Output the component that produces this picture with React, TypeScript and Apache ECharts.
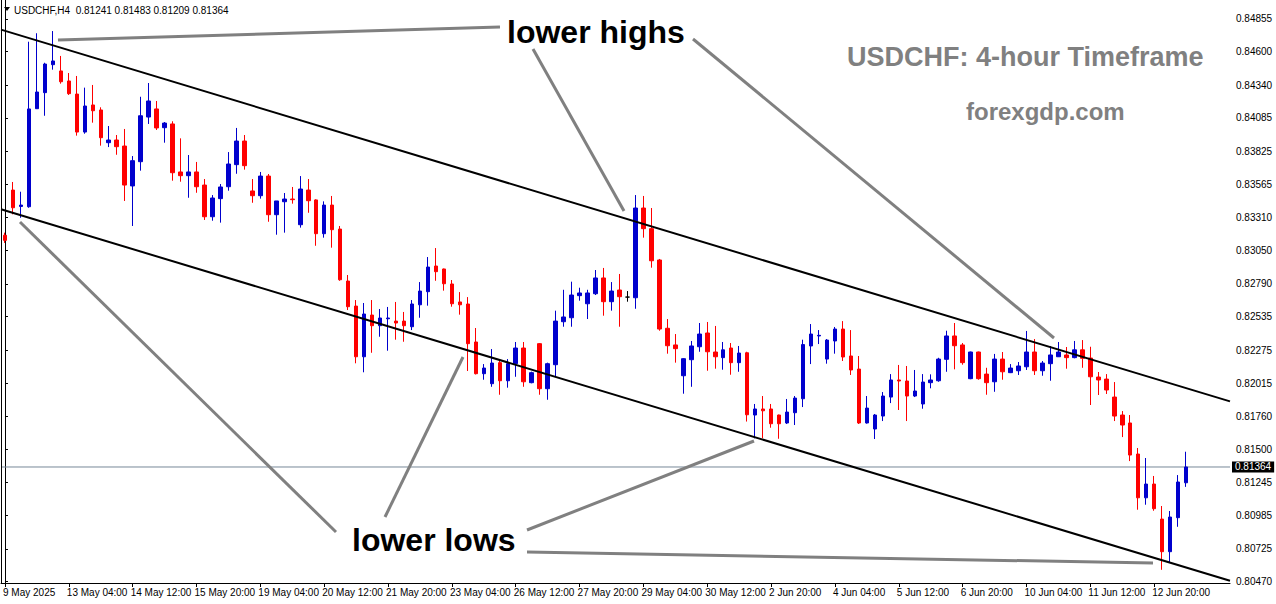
import React, { useEffect, useRef } from "react";
import * as echarts from "echarts";

// OHLC of USDCHF H4 bars, from 9 May 2025 20:00 to 13 Jun 12:00
const opens = [
  0.8317, 0.83522, 0.83394, 0.83392, 0.84156, 0.84281, 0.84499, 0.8445, 0.84372, 0.8427,
  0.83974, 0.84185, 0.84146, 0.83891, 0.83912, 0.83865, 0.83554, 0.83743, 0.84091, 0.84154,
  0.84008, 0.84037, 0.83663, 0.83634, 0.83663, 0.83561, 0.83314, 0.83455, 0.83548, 0.8372,
  0.83904, 0.83515, 0.83478, 0.83631, 0.8333, 0.83431, 0.83452, 0.83252, 0.83522, 0.83445,
  0.83182, 0.83405, 0.83218, 0.82813, 0.82618, 0.82223, 0.82548, 0.82465, 0.82519, 0.82501,
  0.82501, 0.82457, 0.82628, 0.8273, 0.8293, 0.82907, 0.8279, 0.8265, 0.82634, 0.82338,
  0.82091, 0.82013, 0.82177, 0.82036, 0.82169, 0.82291, 0.82021, 0.82325, 0.81974, 0.82161,
  0.82496, 0.82527, 0.82699, 0.82636, 0.82714, 0.82837, 0.82652, 0.82743, 0.82688, 0.82683,
  0.83382, 0.83221, 0.82977, 0.82445, 0.82315, 0.82075, 0.822, 0.82301, 0.82408, 0.8226,
  0.82216, 0.82291, 0.82177, 0.82254, 0.81769, 0.81816, 0.81816, 0.81769, 0.81707, 0.81787,
  0.81896, 0.82307, 0.82385, 0.82205, 0.82346, 0.82439, 0.82229, 0.82127, 0.81707, 0.8166,
  0.81761, 0.81909, 0.82042, 0.82034, 0.81917, 0.81855, 0.82021, 0.82036, 0.82203, 0.82385,
  0.82315, 0.82052, 0.8226, 0.82088, 0.82028, 0.82205, 0.82099, 0.82114, 0.82145, 0.8226,
  0.82114, 0.82169, 0.82223, 0.82237, 0.82216, 0.82277, 0.82213, 0.82065, 0.82049, 0.81909,
  0.81769, 0.81707, 0.81465, 0.81124, 0.81231, 0.80958, 0.80704, 0.80969, 0.81241,
];
const highs = [
  0.8319, 0.83585, 0.83509, 0.84678, 0.84744, 0.84514, 0.84761, 0.84567, 0.84434, 0.84411,
  0.8432, 0.84341, 0.84167, 0.84021, 0.83951, 0.83998, 0.83787, 0.84249, 0.84356, 0.84216,
  0.84052, 0.84058, 0.83925, 0.83795, 0.83741, 0.83608, 0.83483, 0.83569, 0.83818, 0.84006,
  0.83951, 0.83608, 0.83663, 0.83647, 0.83437, 0.83499, 0.83546, 0.83631, 0.83608, 0.8345,
  0.83434, 0.83476, 0.83242, 0.8286, 0.82665, 0.82642, 0.82665, 0.82595, 0.82611, 0.8265,
  0.82572, 0.82665, 0.82805, 0.83, 0.8307, 0.8291, 0.82821, 0.82727, 0.82688, 0.82447,
  0.82166, 0.82283, 0.82192, 0.82205, 0.82338, 0.82338, 0.82107, 0.8233, 0.82177, 0.82582,
  0.82745, 0.82808, 0.82761, 0.82745, 0.82899, 0.82915, 0.82805, 0.82868, 0.82735, 0.83483,
  0.83476, 0.83382, 0.82985, 0.82517, 0.824, 0.82212, 0.82346, 0.82486, 0.82494, 0.82463,
  0.82338, 0.8233, 0.82307, 0.82262, 0.81855, 0.81917, 0.81855, 0.81772, 0.81894, 0.81917,
  0.82356, 0.82478, 0.82431, 0.82361, 0.82455, 0.82501, 0.82431, 0.82229, 0.81917, 0.81777,
  0.81948, 0.82088, 0.82159, 0.82151, 0.8212, 0.82088, 0.82086, 0.82215, 0.82426, 0.82486,
  0.8233, 0.82263, 0.82263, 0.82137, 0.82245, 0.8226, 0.82166, 0.82182, 0.82424, 0.82361,
  0.8219, 0.82307, 0.82338, 0.82299, 0.82346, 0.82353, 0.82301, 0.82104, 0.82088, 0.82026,
  0.818, 0.81769, 0.81512, 0.81434, 0.81294, 0.8106, 0.81021, 0.81301, 0.81483,
];
const lows = [
  0.8311, 0.83333, 0.83306, 0.83384, 0.84154, 0.84101, 0.8446, 0.84351, 0.84263, 0.83946,
  0.83961, 0.84047, 0.83868, 0.83857, 0.83797, 0.83437, 0.83242, 0.83673, 0.84037, 0.8399,
  0.83891, 0.83595, 0.83587, 0.83462, 0.83501, 0.83289, 0.83283, 0.83268, 0.83517, 0.83649,
  0.83681, 0.83423, 0.83455, 0.83275, 0.83174, 0.8319, 0.83416, 0.83229, 0.83345, 0.83088,
  0.83151, 0.83073, 0.82815, 0.82587, 0.82172, 0.82102, 0.82254, 0.82379, 0.8227, 0.82356,
  0.8234, 0.82431, 0.82527, 0.82621, 0.82815, 0.82738, 0.82613, 0.82551, 0.82112, 0.82085,
  0.82044, 0.81989, 0.81927, 0.81982, 0.82067, 0.81989, 0.82016, 0.81927, 0.81888, 0.82067,
  0.82457, 0.82457, 0.8266, 0.82517, 0.82704, 0.82543, 0.82582, 0.82457, 0.82652, 0.82597,
  0.83151, 0.82917, 0.82426, 0.82247, 0.82177, 0.81935, 0.81989, 0.82262, 0.82114, 0.8213,
  0.82122, 0.82083, 0.82106, 0.81718, 0.81587, 0.81587, 0.8167, 0.81584, 0.81699, 0.81691,
  0.81831, 0.82166, 0.82322, 0.82169, 0.82247, 0.8219, 0.82081, 0.81699, 0.81702, 0.81582,
  0.81722, 0.81862, 0.81808, 0.81722, 0.81909, 0.81818, 0.81977, 0.82028, 0.82106, 0.82125,
  0.82161, 0.82048, 0.82044, 0.81927, 0.8195, 0.82044, 0.82096, 0.82081, 0.8212, 0.82081,
  0.82075, 0.82036, 0.82221, 0.8213, 0.82211, 0.82137, 0.81847, 0.81925, 0.81933, 0.81722,
  0.81597, 0.8141, 0.81031, 0.8107, 0.81023, 0.80563, 0.80618, 0.80898, 0.81209,
];
const closes = [
  0.8313, 0.83384, 0.83405, 0.84154, 0.84286, 0.84504, 0.84528, 0.84366, 0.84273, 0.83974,
  0.84177, 0.8414, 0.8393, 0.83912, 0.8386, 0.83561, 0.83751, 0.84101, 0.84216, 0.84006,
  0.84044, 0.83657, 0.83634, 0.83663, 0.83548, 0.83314, 0.8346, 0.83546, 0.83725, 0.83904,
  0.83712, 0.83478, 0.83631, 0.8333, 0.83437, 0.83452, 0.83447, 0.8353, 0.83439, 0.83182,
  0.83405, 0.83213, 0.82823, 0.82613, 0.82223, 0.82556, 0.82465, 0.82525, 0.82525, 0.82486,
  0.82465, 0.82634, 0.82735, 0.82922, 0.82886, 0.82792, 0.82636, 0.82628, 0.82325, 0.82091,
  0.82135, 0.82174, 0.82036, 0.82169, 0.82291, 0.82028, 0.82099, 0.81974, 0.82169, 0.82501,
  0.82533, 0.82704, 0.8272, 0.8272, 0.82837, 0.82652, 0.82735, 0.82691, 0.82688, 0.83382,
  0.83221, 0.82971, 0.82439, 0.82309, 0.82286, 0.82208, 0.82307, 0.824, 0.82262, 0.82223,
  0.82277, 0.82177, 0.82252, 0.81771, 0.81816, 0.81802, 0.81701, 0.81701, 0.81792, 0.81901,
  0.82318, 0.824, 0.8239, 0.82353, 0.82439, 0.82221, 0.8212, 0.81707, 0.81823, 0.81769,
  0.81917, 0.82042, 0.82034, 0.81917, 0.81956, 0.82026, 0.82042, 0.82205, 0.82385, 0.82309,
  0.82177, 0.8226, 0.82052, 0.82021, 0.82205, 0.82106, 0.82135, 0.82151, 0.8226, 0.82114,
  0.82174, 0.82237, 0.8226, 0.82216, 0.82277, 0.82211, 0.82067, 0.82042, 0.81964, 0.81761,
  0.81691, 0.81457, 0.81124, 0.81231, 0.81039, 0.80704, 0.80974, 0.81247, 0.81364,
];

// x-axis tick labels, one every 8 bars
const xTickLabels = [
  "9 May 2025", "13 May 04:00", "14 May 12:00", "15 May 20:00", "19 May 04:00",
  "20 May 12:00", "21 May 20:00", "23 May 04:00", "26 May 12:00", "27 May 20:00",
  "29 May 04:00", "30 May 12:00", "2 Jun 20:00", "4 Jun 04:00", "5 Jun 12:00",
  "6 Jun 20:00", "10 Jun 04:00", "11 Jun 12:00", "12 Jun 20:00",
];
// price scale labels
const yTickValues = [
  0.84855, 0.846, 0.8434, 0.84085, 0.83825, 0.83565, 0.8331, 0.8305, 0.8279, 0.82535,
  0.82275, 0.82015, 0.8176, 0.815, 0.81245, 0.80985, 0.80725, 0.8047,
];
// channel trend lines: [bar position, price] at both ends
const channelBars = [-0.5, 153.5];
const upperChannel = [0.84772, 0.81875];
const lowerChannel = [0.83372, 0.80477];

const TOTAL_SLOTS = 154;
const LABEL_STEP = 8;

export default function App() {
  const ref = useRef<HTMLDivElement>(null);
  useEffect(() => {
    if (!ref.current) return;
    const chart = echarts.init(ref.current, undefined, { renderer: "svg" });
    const n = opens.length;
    const cats = Array.from({ length: TOTAL_SLOTS }, (_, i) => String(i));
    const candles = opens.map((o, i) => [o, closes[i], lows[i], highs[i]]);
    const lastPrice = closes[n - 1];
    const fam = '"Liberation Sans", Arial, sans-serif';
    const showIdx = (i: number) => i % LABEL_STEP === 0 && i / LABEL_STEP < xTickLabels.length;
    const gray = "#808080";
    const ln = (x1: number, y1: number, x2: number, y2: number) => ({
      type: "line",
      shape: { x1, y1, x2, y2 },
      style: { stroke: gray, lineWidth: 3 },
      z: 100,
    });
    const header = `USDCHF,H4  ${opens[n - 1].toFixed(5)} ${highs[n - 1].toFixed(5)} ${lows[n - 1].toFixed(5)} ${closes[n - 1].toFixed(5)}`;

    chart.setOption({
      animation: false,
      backgroundColor: "#ffffff",
      grid: { left: 0, right: 46, top: 0, bottom: 21, containLabel: false },
      xAxis: [
        {
          type: "category",
          data: cats,
          boundaryGap: true,
          axisLine: { show: true, lineStyle: { color: "#000", width: 1 } },
          axisTick: {
            show: true,
            alignWithLabel: true,
            interval: (i: number) => showIdx(i),
            length: 4,
            lineStyle: { color: "#000" },
          },
          axisLabel: {
            interval: (i: number) => showIdx(i),
            formatter: (_v: string, i: number) => xTickLabels[i / LABEL_STEP] ?? "",
            align: "left",
            color: "#000",
            fontSize: 10,
            fontFamily: fam,
            margin: 4,
            padding: [0, 0, 0, -2],
          },
          splitLine: { show: false },
        },
        { type: "value", min: channelBars[0], max: channelBars[1], show: false },
      ],
      yAxis: {
        type: "value",
        position: "right",
        min: 0.8046,
        max: 0.85003,
        scale: true,
        axisLine: { show: true, lineStyle: { color: "#000", width: 1 } },
        axisTick: { show: true, customValues: yTickValues, length: 3, lineStyle: { color: "#000" } },
        axisLabel: {
          customValues: yTickValues,
          formatter: (v: number) => v.toFixed(5),
          color: "#000",
          fontSize: 10,
          fontFamily: fam,
          margin: 6,
        },
        splitLine: { show: false },
      },
      series: [
        {
          type: "line",
          xAxisIndex: 1,
          data: channelBars.map((b) => [b, lastPrice]),
          showSymbol: false,
          symbol: "none",
          lineStyle: { color: "#778899", width: 1 },
          z: 1,
          silent: true,
          endLabel: {
            show: true,
            formatter: () => lastPrice.toFixed(5),
            backgroundColor: "#000",
            color: "#fff",
            fontSize: 10,
            fontFamily: fam,
            padding: [1, 3, 0, 3],
            distance: 2,
          },
        },
        {
          type: "candlestick",
          xAxisIndex: 0,
          data: candles,
          barWidth: 4,
          itemStyle: {
            color: "#0000CD",
            color0: "#FF0000",
            borderColor: "#0000CD",
            borderColor0: "#FF0000",
            borderColorDoji: "#000000",
            borderWidth: 1,
          },
          z: 2,
        },
        {
          type: "line",
          xAxisIndex: 1,
          data: channelBars.map((b, i) => [b, upperChannel[i]]),
          showSymbol: false,
          symbol: "none",
          lineStyle: { color: "#000", width: 2 },
          z: 5,
          silent: true,
        },
        {
          type: "line",
          xAxisIndex: 1,
          data: channelBars.map((b, i) => [b, lowerChannel[i]]),
          showSymbol: false,
          symbol: "none",
          lineStyle: { color: "#000", width: 2 },
          z: 5,
          silent: true,
        },
      ],
      graphic: [
        { type: "line", shape: { x1: 1.5, y1: 0, x2: 1.5, y2: 583 }, style: { stroke: "#000", lineWidth: 1 }, z: 50 },
        { type: "polygon", shape: { points: [[4, 7], [10, 7], [7, 11]] }, style: { fill: "#000" }, z: 100 },
        {
          type: "text",
          x: 14,
          y: 10,
          style: { text: header, font: `10px ${fam}`, fill: "#000", textVerticalAlign: "middle" },
          z: 100,
        },
        ln(58, 40, 500, 27),
        ln(533, 49, 624, 211),
        ln(693, 39, 1054, 338),
        ln(20, 222, 336, 532),
        ln(385, 517, 463, 357),
        ln(527, 530, 754, 441),
        ln(527, 552, 1153, 563),
        {
          type: "text",
          x: 507,
          y: 32,
          style: { text: "lower highs", font: `bold 32px ${fam}`, fill: "#000", textVerticalAlign: "middle" },
          z: 100,
        },
        {
          type: "text",
          x: 352,
          y: 540,
          style: { text: "lower lows", font: `bold 32px ${fam}`, fill: "#000", textVerticalAlign: "middle" },
          z: 100,
        },
        {
          type: "text",
          x: 847,
          y: 57,
          style: { text: "USDCHF: 4-hour Timeframe", font: `bold 27px ${fam}`, fill: gray, textVerticalAlign: "middle" },
          z: 100,
        },
        {
          type: "text",
          x: 966,
          y: 111,
          style: { text: "forexgdp.com", font: `bold 24px ${fam}`, fill: gray, textVerticalAlign: "middle" },
          z: 100,
        },
      ],
    });
    return () => chart.dispose();
  }, []);
  return (
    <div
      ref={ref}
      style={{ position: "fixed", left: 0, top: 0, width: 1276, height: 604, background: "#fff" }}
    />
  );
}
